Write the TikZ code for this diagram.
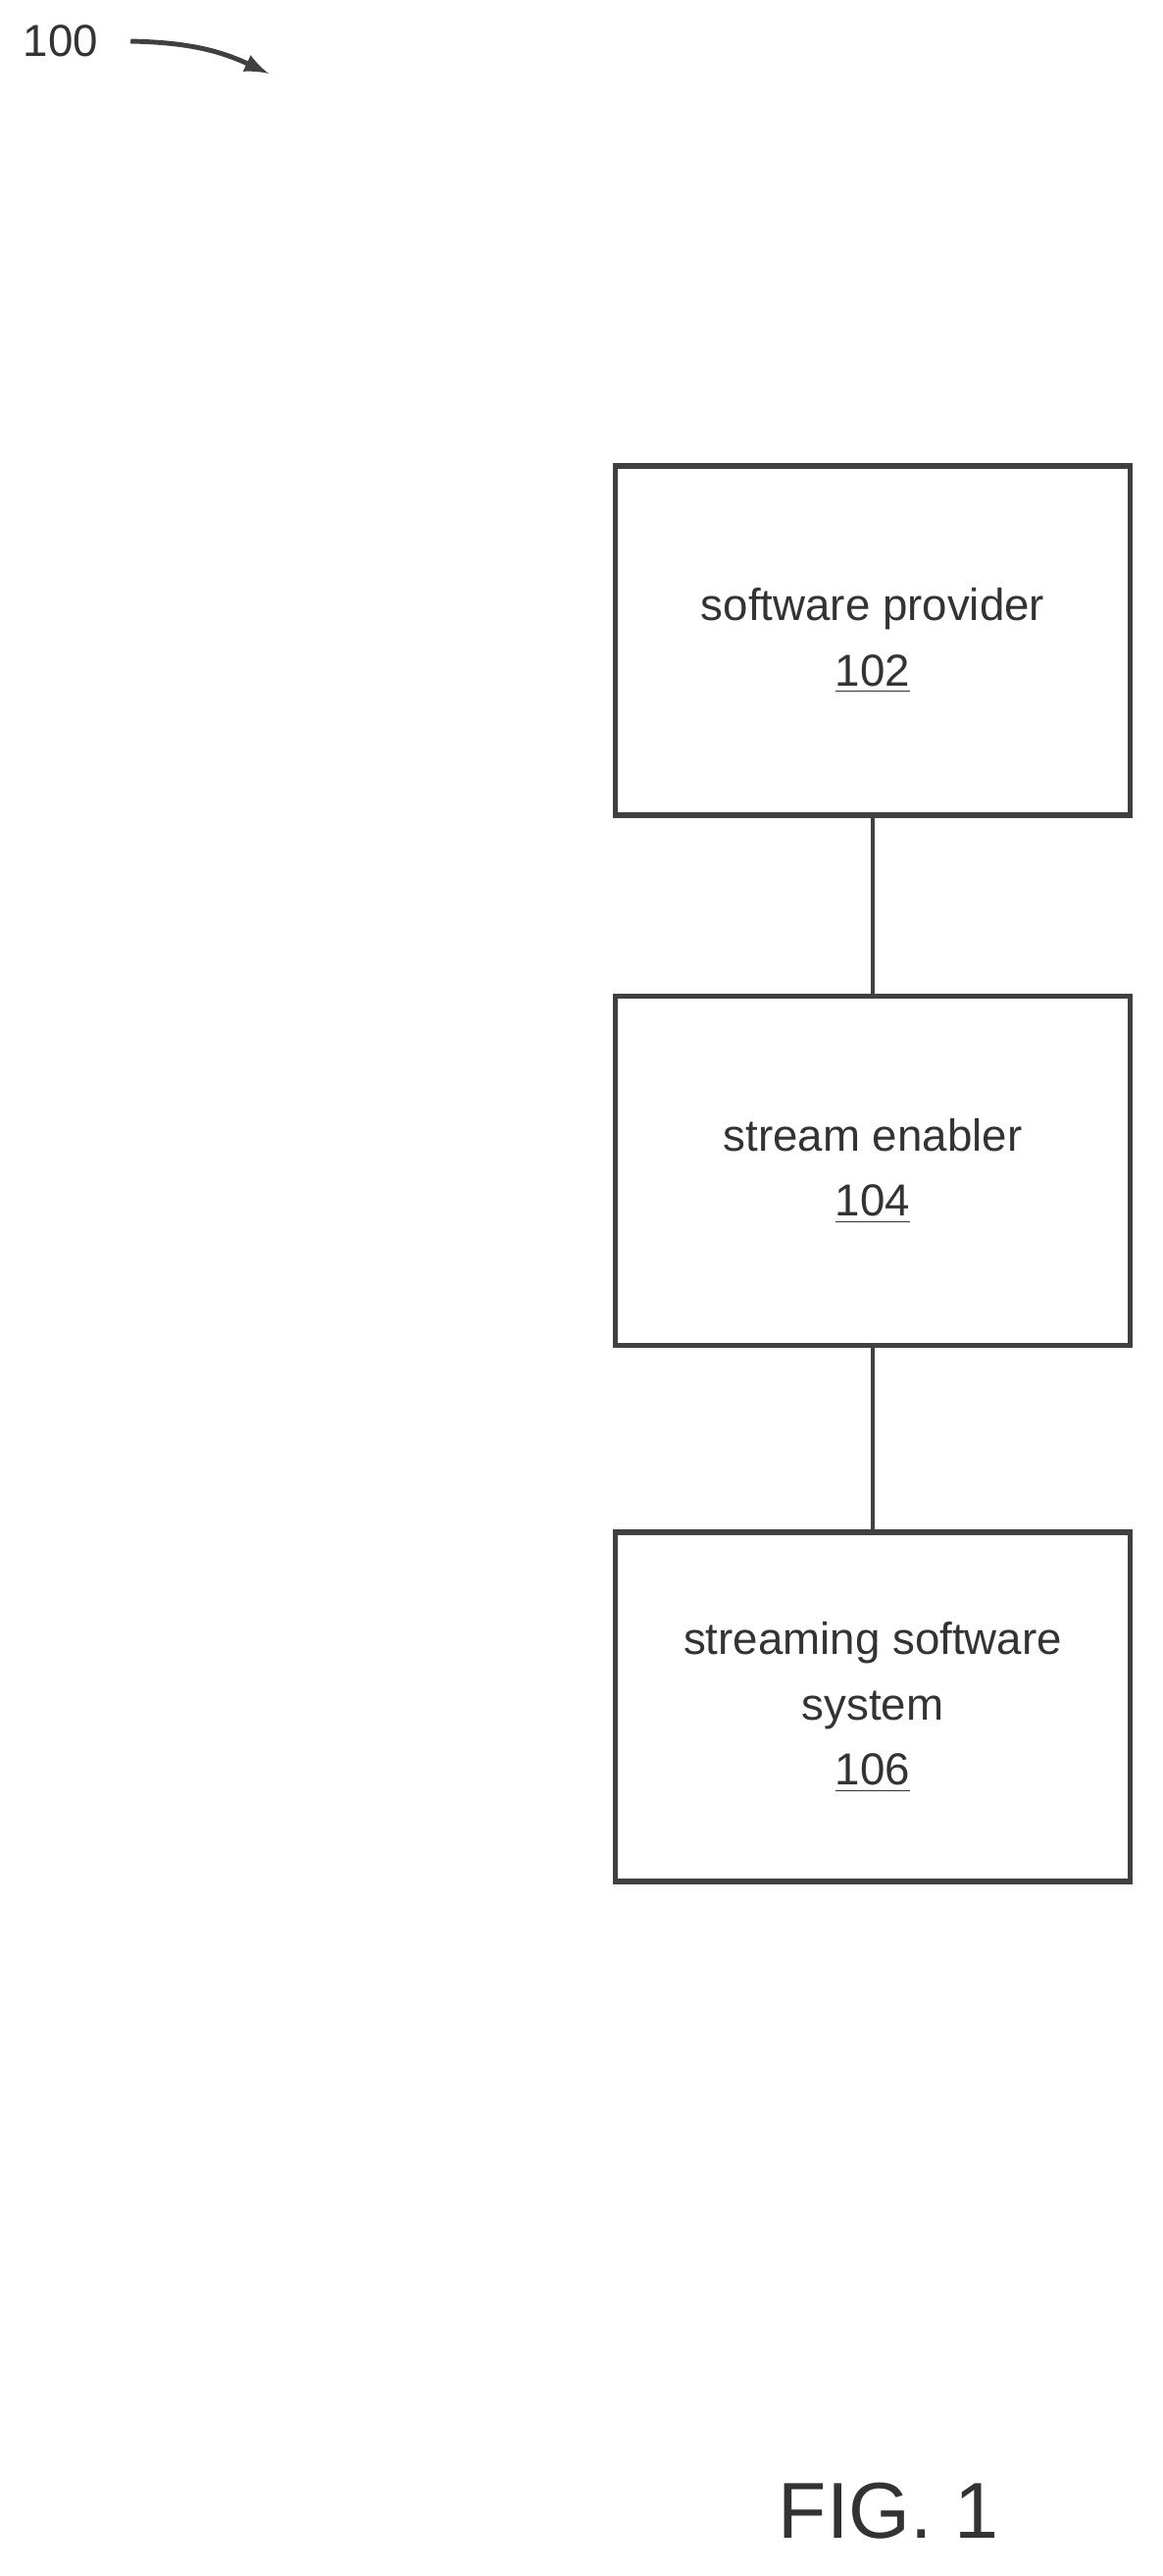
\documentclass[tikz,border=0pt]{standalone}
\usepackage{fontspec}
\setmainfont{Liberation Sans}
\usetikzlibrary{positioning}
\begin{document}
\begin{tikzpicture}[thick,
    block/.style={draw=black!75,line width=1.6pt,minimum width=5.25cm,minimum height=3.56cm,
                  align=center,font=\fontsize{13}{19}\selectfont,text=black!80}]
\useasboundingbox (0,0) rectangle (11.85,-26.26);

\node[block] (sp) at (8.9,-6.53) {software provider\\\underline{102}};
\node[block] (se) [below=1.79cm of sp] {stream enabler\\\underline{104}};
\node[block] (sss) [below=1.85cm of se] {streaming software\\system\\\underline{106}};

\node[font=\fontsize{13}{15}\selectfont,text=black!80] (lbl) at (0.62,-0.42) {100};
\coordinate (tip) at (2.74,-0.75);
\node[font=\fontsize{23}{26}\selectfont,text=black!80] (fig) at (9.06,-25.6) {FIG. 1};

\draw[black!75,line width=1.4pt] (sp) -- (se);
\draw[black!75,line width=1.4pt] (se) -- (sss);
\draw[->,>=latex,black!75,line width=1.4pt] (lbl.east) ++(0.2,0) to[bend left=12] (tip);
\end{tikzpicture}
\end{document}
